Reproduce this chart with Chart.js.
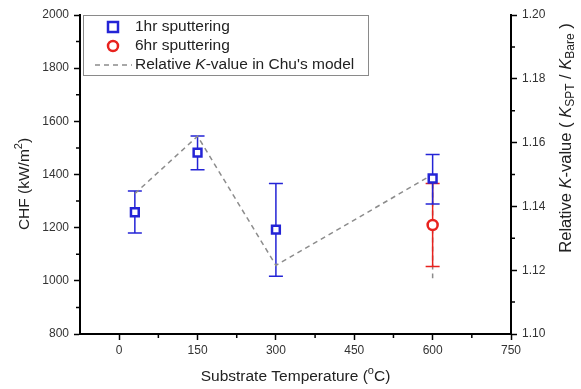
<!DOCTYPE html>
<html>
<head>
<meta charset="utf-8">
<script src="https://cdn.jsdelivr.net/npm/chart.js@4"></script>
<style>
  html, body { margin: 0; padding: 0; background: #fff; }
  #wrap { width: 581px; height: 389px; }
</style>
</head>
<body>
<div id="wrap"><canvas id="chf"></canvas></div>
<script>
// Data
const temps = [30, 150, 300, 600];
const chf1hr = [1258, 1482, 1193, 1385];
const chf1hrHigh = [1338, 1545, 1366, 1475];
const chf1hrLow = [1180, 1418, 1017, 1289];

const temps6hr = [600];
const chf6hr = [1210];
const chf6hrHigh = [1366];
const chf6hrLow = [1054];

const kValues = [1.144, 1.162, 1.1215, 1.150];
const kLow = [null, null, null, 1.1175];

const xTicks = [0, 150, 300, 450, 600, 750];

const BLUE = '#2424d6';
const RED = '#e8221e';
const GRAY = '#8c8c8c';
const FONT = '"Liberation Sans", Arial, sans-serif';

// draw a run of text pieces: {t, i: italic, sup, sub}
function drawRich(ctx, parts, size, x, y, align) {
  const fontFor = p => {
    const small = p.sup || p.sub;
    return (p.i ? 'italic ' : '') + (small ? Math.round(size * 0.7) : size) + 'px ' + FONT;
  };
  let total = 0;
  parts.forEach(p => { ctx.font = fontFor(p); total += ctx.measureText(p.t).width; });
  let cx = align === 'center' ? x - total / 2 : x;
  ctx.textAlign = 'left';
  ctx.textBaseline = 'middle';
  parts.forEach(p => {
    ctx.font = fontFor(p);
    let dy = 0;
    if (p.sup) dy = -size * 0.38;
    if (p.sub) dy = size * 0.3;
    ctx.fillText(p.t, cx, y + dy);
    cx += ctx.measureText(p.t).width;
  });
}

const extras = {
  id: 'extras',
  beforeDatasetsDraw(chart) {
    const { ctx, scales } = chart;
    const x = scales.x, y = scales.y, y2 = scales.y2;
    ctx.save();
    // gray dashed K range at 600
    ctx.strokeStyle = GRAY;
    ctx.lineWidth = 1.5;
    ctx.setLineDash([5, 4]);
    temps.forEach((t, i) => {
      if (kLow[i] == null) return;
      ctx.beginPath();
      ctx.moveTo(x.getPixelForValue(t), y2.getPixelForValue(kValues[i]));
      ctx.lineTo(x.getPixelForValue(t), y2.getPixelForValue(kLow[i]));
      ctx.stroke();
    });
    ctx.setLineDash([]);
    const bar = (t, hi, lo, color) => {
      const px = x.getPixelForValue(t);
      const ph = y.getPixelForValue(hi);
      const pl = y.getPixelForValue(lo);
      ctx.strokeStyle = color;
      ctx.lineWidth = 1.5;
      ctx.beginPath();
      ctx.moveTo(px, ph); ctx.lineTo(px, pl);
      ctx.moveTo(px - 7, ph); ctx.lineTo(px + 7, ph);
      ctx.moveTo(px - 7, pl); ctx.lineTo(px + 7, pl);
      ctx.stroke();
    };
    temps6hr.forEach((t, i) => bar(t, chf6hrHigh[i], chf6hrLow[i], RED));
    temps.forEach((t, i) => bar(t, chf1hrHigh[i], chf1hrLow[i], BLUE));
    ctx.restore();
  },
  afterDraw(chart) {
    const { ctx, scales, chartArea: a } = chart;
    const x = scales.x, y = scales.y, y2 = scales.y2;
    ctx.save();
    // minor ticks
    ctx.strokeStyle = '#000';
    ctx.lineWidth = 1.5;
    ctx.beginPath();
    for (let v = 900; v < 2000; v += 200) {
      const p = y.getPixelForValue(v);
      ctx.moveTo(a.left - 4, p); ctx.lineTo(a.left, p);
    }
    for (let v = 1.11; v < 1.2; v += 0.02) {
      const p = y2.getPixelForValue(v);
      ctx.moveTo(a.right, p); ctx.lineTo(a.right + 4, p);
    }
    for (let v = 75; v <= 675; v += 150) {
      const p = x.getPixelForValue(v);
      ctx.moveTo(p, a.bottom); ctx.lineTo(p, a.bottom + 4);
    }
    ctx.stroke();

    // axis titles
    ctx.fillStyle = '#222';
    drawRich(ctx, [{ t: 'Substrate Temperature (' }, { t: 'o', sup: true }, { t: 'C)' }], 15.5,
      (a.left + a.right) / 2, 377, 'center');

    ctx.save();
    ctx.translate(25, 184);
    ctx.rotate(-Math.PI / 2);
    drawRich(ctx, [{ t: 'CHF (kW/m' }, { t: '2', sup: true }, { t: ')' }], 15.5, 0, 0, 'center');
    ctx.restore();

    ctx.save();
    ctx.translate(566, 138);
    ctx.rotate(-Math.PI / 2);
    drawRich(ctx, [
      { t: 'Relative ' }, { t: 'K', i: true }, { t: '-value ( ' },
      { t: 'K', i: true }, { t: 'SPT', sub: true }, { t: ' / ' },
      { t: 'K', i: true }, { t: 'Bare', sub: true }, { t: ' )' }
    ], 16.5, 0, 0, 'center');
    ctx.restore();

    // legend
    ctx.strokeStyle = '#8a8a8a';
    ctx.lineWidth = 1;
    ctx.strokeRect(83.5, 15.5, 285, 60);
    ctx.lineWidth = 2.5;
    ctx.strokeStyle = BLUE;
    ctx.fillStyle = '#fff';
    ctx.fillRect(108, 22, 10, 10);
    ctx.strokeRect(108, 22, 10, 10);
    ctx.strokeStyle = RED;
    ctx.beginPath();
    ctx.arc(113, 46, 5, 0, Math.PI * 2);
    ctx.fill();
    ctx.stroke();
    ctx.strokeStyle = GRAY;
    ctx.lineWidth = 1.5;
    ctx.setLineDash([5, 4]);
    ctx.beginPath();
    ctx.moveTo(95, 65); ctx.lineTo(132, 65);
    ctx.stroke();
    ctx.setLineDash([]);
    ctx.fillStyle = '#222';
    drawRich(ctx, [{ t: '1hr sputtering' }], 15.5, 135, 27, 'left');
    drawRich(ctx, [{ t: '6hr sputtering' }], 15.5, 135, 46, 'left');
    drawRich(ctx, [{ t: 'Relative ' }, { t: 'K', i: true }, { t: "-value in Chu's model" }], 15.5, 135, 65, 'left');
    ctx.restore();
  }
};

const tickFont = { family: FONT, size: 12 };
const axisGrid = { drawOnChartArea: false, drawTicks: true, tickLength: 6, color: '#000', tickWidth: 1.5 };

new Chart(document.getElementById('chf'), {
  type: 'scatter',
  data: {
    datasets: [
      {
        label: '1hr sputtering',
        data: temps.map((t, i) => ({ x: t, y: chf1hr[i] })),
        yAxisID: 'y',
        pointStyle: 'rect',
        pointRadius: 5.5,
        borderColor: BLUE,
        backgroundColor: '#fff',
        pointBorderWidth: 2.5,
        order: 1
      },
      {
        label: '6hr sputtering',
        data: temps6hr.map((t, i) => ({ x: t, y: chf6hr[i] })),
        yAxisID: 'y',
        pointStyle: 'circle',
        pointRadius: 5,
        borderColor: RED,
        backgroundColor: '#fff',
        pointBorderWidth: 2.5,
        order: 2
      },
      {
        label: "Relative K-value in Chu's model",
        data: temps.map((t, i) => ({ x: t, y: kValues[i] })),
        yAxisID: 'y2',
        showLine: true,
        borderColor: GRAY,
        borderWidth: 1.5,
        borderDash: [5, 4],
        pointRadius: 0,
        order: 3
      }
    ]
  },
  options: {
    responsive: true,
    maintainAspectRatio: false,
    animation: false,
    layout: { padding: { top: 15, left: 0, right: 0, bottom: 0 } },
    plugins: { legend: { display: false }, tooltip: { enabled: false } },
    scales: {
      x: {
        type: 'linear',
        min: -75,
        max: 750,
        afterBuildTicks: s => { s.ticks = xTicks.map(v => ({ value: v })); },
        afterFit: s => { s.height = 55; },
        grid: axisGrid,
        border: { display: true, color: '#000', width: 2 },
        ticks: { font: tickFont, color: '#333', padding: 3, callback: v => String(v) }
      },
      y: {
        position: 'left',
        min: 800,
        max: 2000,
        afterFit: s => { s.width = 80; },
        grid: axisGrid,
        border: { display: true, color: '#000', width: 2 },
        ticks: { stepSize: 200, font: tickFont, color: '#333', padding: 5, callback: v => String(v) }
      },
      y2: {
        position: 'right',
        min: 1.1,
        max: 1.2,
        afterFit: s => { s.width = 70; },
        grid: axisGrid,
        border: { display: true, color: '#000', width: 2 },
        ticks: { stepSize: 0.02, font: tickFont, color: '#333', padding: 5, callback: v => v.toFixed(2) }
      }
    }
  },
  plugins: [extras]
});
</script>
</body>
</html>
